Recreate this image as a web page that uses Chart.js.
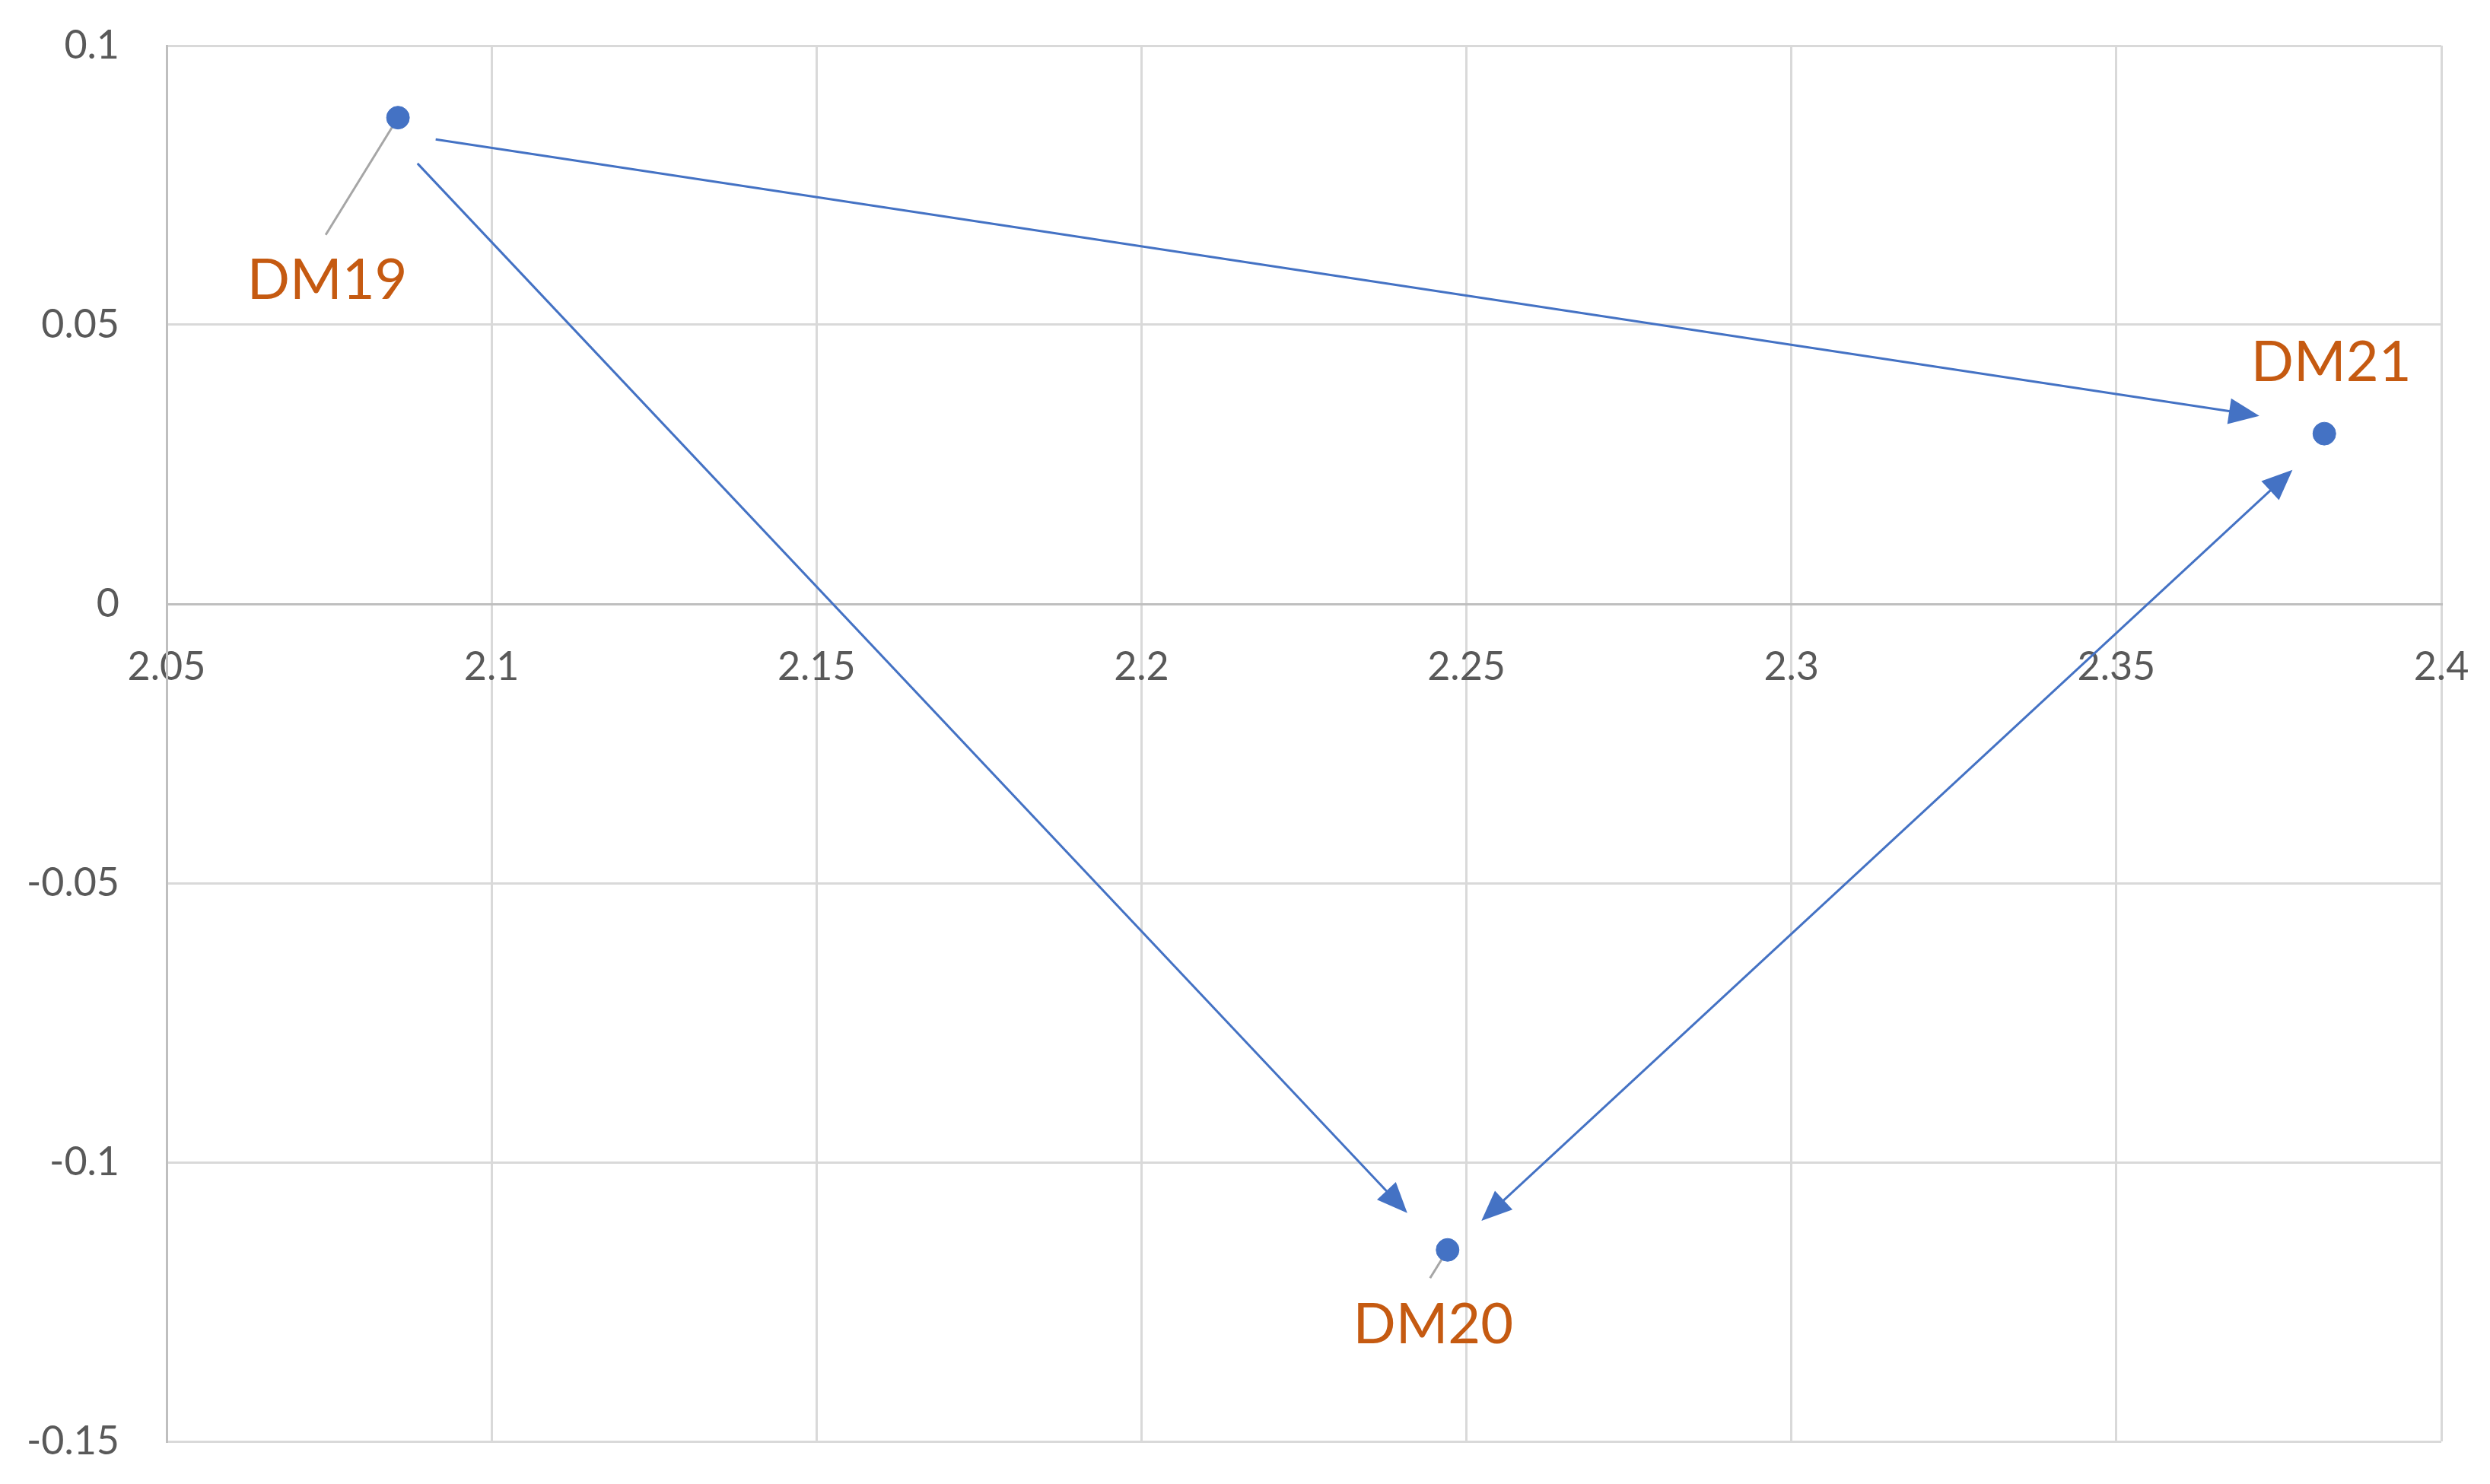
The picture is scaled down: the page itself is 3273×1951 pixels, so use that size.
<!DOCTYPE html>
<html>
<head>
<meta charset="utf-8">
<title>DM19 / DM20 / DM21</title>
<script src="https://cdn.jsdelivr.net/npm/chart.js@4.4.1/dist/chart.umd.min.js"></script>
<style>
    html, body { margin: 0; padding: 0; background: #ffffff; }
    canvas { display: block; }
</style>
</head>
<body>
<canvas id="scatterChart" width="3273" height="1951"></canvas>
<script>
// Point data
const pointNames = ['DM19', 'DM20', 'DM21'];
const pointX = [2.0856, 2.2471, 2.3820];
const pointY = [0.0871, -0.1157, 0.0305];

// Arrow data (from -> to, in axis units)
const arrowFromX = [2.0914, 2.0886, 2.2523];
const arrowFromY = [0.0832, 0.0789, -0.1105];
const arrowToX = [2.3720, 2.2409, 2.3771];
const arrowToY = [0.0337, -0.1091, 0.0240];
const arrowBothEnds = [false, false, true];

// Axis ticks
const xTicks = [2.05, 2.1, 2.15, 2.2, 2.25, 2.3, 2.35, 2.4];
const xTickLabels = ['2.05', '2.1', '2.15', '2.2', '2.25', '2.3', '2.35', '2.4'];
const yTicks = [-0.15, -0.1, -0.05, 0, 0.05, 0.1];
const yTickLabels = ['-0.15', '-0.1', '-0.05', '0', '0.05', '0.1'];

// Styles
const BLUE = '#4472C4';
const ORANGE = '#C55A11';
const GRID = '#D9D9D9';
const AXIS = '#BFBFBF';
const TICK = '#595959';
const FONT = 'Lato, "Open Sans", sans-serif';

// label placement relative to the point, in pixels
const labelStyle = [
    { dx: -93, dy: 214, leader: { dx: -95, dy: 154 } },
    { dx: -19, dy: 99, leader: { dx: -23, dy: 37 } },
    { dx: 9, dy: -93, leader: null }
];

function drawArrowHead(ctx, x1, y1, x2, y2, len, half) {
    // tip at (x2, y2), pointing away from (x1, y1)
    const ang = Math.atan2(y2 - y1, x2 - x1);
    ctx.beginPath();
    ctx.moveTo(x2, y2);
    ctx.lineTo(x2 - len * Math.cos(ang) + half * Math.sin(ang), y2 - len * Math.sin(ang) - half * Math.cos(ang));
    ctx.lineTo(x2 - len * Math.cos(ang) - half * Math.sin(ang), y2 - len * Math.sin(ang) + half * Math.cos(ang));
    ctx.closePath();
    ctx.fill();
}

const annotationPlugin = {
    id: 'arrowsAndLabels',
    beforeDatasetsDraw(chart) {
        const ctx = chart.ctx;
        const xs = chart.scales.x;
        const ys = chart.scales.y;
        const headLen = 40;
        const headHalf = 17;

        ctx.save();
        ctx.strokeStyle = BLUE;
        ctx.fillStyle = BLUE;
        ctx.lineWidth = 3;
        arrowFromX.forEach((fx, i) => {
            let x1 = xs.getPixelForValue(fx);
            let y1 = ys.getPixelForValue(arrowFromY[i]);
            let x2 = xs.getPixelForValue(arrowToX[i]);
            let y2 = ys.getPixelForValue(arrowToY[i]);
            const dist = Math.hypot(x2 - x1, y2 - y1);
            const ux = (x2 - x1) / dist;
            const uy = (y2 - y1) / dist;

            const sx = arrowBothEnds[i] ? x1 + ux * headLen * 0.8 : x1;
            const sy = arrowBothEnds[i] ? y1 + uy * headLen * 0.8 : y1;
            ctx.beginPath();
            ctx.moveTo(sx, sy);
            ctx.lineTo(x2 - ux * headLen * 0.8, y2 - uy * headLen * 0.8);
            ctx.stroke();

            drawArrowHead(ctx, x1, y1, x2, y2, headLen, headHalf);
            if (arrowBothEnds[i]) {
                drawArrowHead(ctx, x2, y2, x1, y1, headLen, headHalf);
            }
        });

        // leader lines
        ctx.strokeStyle = '#A6A6A6';
        ctx.lineWidth = 3;
        pointX.forEach((px, i) => {
            const leader = labelStyle[i].leader;
            if (!leader) return;
            const x = xs.getPixelForValue(px);
            const y = ys.getPixelForValue(pointY[i]);
            ctx.beginPath();
            ctx.moveTo(x, y);
            ctx.lineTo(x + leader.dx, y + leader.dy);
            ctx.stroke();
        });
        ctx.restore();
    },
    afterDatasetsDraw(chart) {
        const ctx = chart.ctx;
        const xs = chart.scales.x;
        const ys = chart.scales.y;

        ctx.save();
        ctx.fillStyle = ORANGE;
        ctx.font = '74px ' + FONT;
        ctx.textAlign = 'center';
        ctx.textBaseline = 'middle';
        pointNames.forEach((name, i) => {
            const x = xs.getPixelForValue(pointX[i]);
            const y = ys.getPixelForValue(pointY[i]);
            ctx.fillText(name, x + labelStyle[i].dx, y + labelStyle[i].dy);
        });
        ctx.restore();
    }
};

const ctx = document.getElementById('scatterChart').getContext('2d');
new Chart(ctx, {
    type: 'scatter',
    data: {
        datasets: [{
            label: 'DM',
            data: pointX.map((x, i) => ({ x: x, y: pointY[i] })),
            backgroundColor: BLUE,
            borderColor: BLUE,
            pointRadius: 15,
            pointHoverRadius: 15
        }]
    },
    options: {
        responsive: false,
        animation: false,
        devicePixelRatio: 1,
        layout: {
            padding: { top: 60, right: 64, bottom: 56, left: 0 }
        },
        plugins: {
            legend: { display: false },
            tooltip: { enabled: false }
        },
        scales: {
            x: {
                type: 'linear',
                min: 2.05,
                max: 2.4,
                position: { y: 0 },
                afterBuildTicks: (scale) => {
                    scale.ticks = xTicks.map(v => ({ value: v }));
                },
                afterFit: (scale) => {
                    // keep the label overhang from shrinking the plot area
                    scale.paddingLeft = 0;
                    scale.paddingRight = 0;
                    scale.paddingTop = 0;
                    scale.paddingBottom = 0;
                },
                grid: {
                    color: GRID,
                    lineWidth: 3,
                    drawTicks: false
                },
                border: {
                    color: AXIS,
                    width: 3
                },
                ticks: {
                    color: TICK,
                    font: { family: FONT, size: 52 },
                    padding: 52,
                    maxRotation: 0,
                    autoSkip: false,
                    callback: (value, index) => xTickLabels[index]
                }
            },
            y: {
                type: 'linear',
                min: -0.15,
                max: 0.1,
                afterBuildTicks: (scale) => {
                    scale.ticks = yTicks.map(v => ({ value: v }));
                },
                afterFit: (scale) => {
                    scale.width = 219;
                    scale.paddingTop = 0;
                    scale.paddingBottom = 0;
                },
                grid: {
                    color: GRID,
                    lineWidth: 3,
                    drawTicks: false
                },
                border: {
                    color: AXIS,
                    width: 3
                },
                ticks: {
                    color: TICK,
                    font: { family: FONT, size: 52 },
                    padding: 62,
                    autoSkip: false,
                    callback: (value, index) => yTickLabels[index]
                }
            }
        }
    },
    plugins: [annotationPlugin]
});
</script>
</body>
</html>
